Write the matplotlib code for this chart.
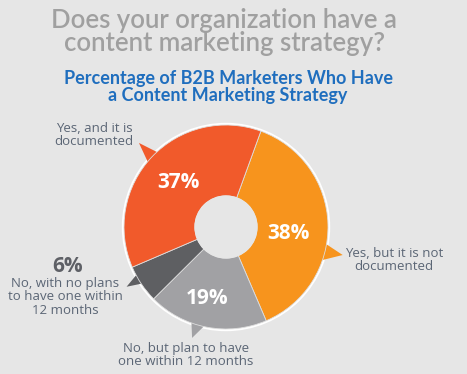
import numpy as np
import matplotlib.pyplot as plt
from matplotlib.patches import Polygon, Circle

# data
labels = ["Yes, but it is not\ndocumented",
          "No, but plan to have\none within 12 months",
          "No, with no plans\nto have one within\n12 months",
          "Yes, and it is\ndocumented"]
values = [38, 19, 6, 37]
pct_text = ["38%", "19%", "6%", "37%"]
colors = ["#F7941D", "#A1A1A4", "#5E5F62", "#F15A2B"]

bg = "#E6E6E6"
W, H = 467, 374
cx, cy, R = 226, H - 227, 102


def tab(angle, half, tip_ang, tip_r):
    # little speech-bubble pointer sticking out of the ring
    a1, a2 = np.radians(angle - half), np.radians(angle + half)
    t = np.radians(tip_ang)
    pts = [(cx + (R - 3) * np.cos(a1), cy + (R - 3) * np.sin(a1)),
           (cx + tip_r * np.cos(t), cy + tip_r * np.sin(t)),
           (cx + (R - 3) * np.cos(a2), cy + (R - 3) * np.sin(a2))]
    return pts


fig = plt.figure(figsize=(W / 100, H / 100), dpi=100, facecolor=bg)
ax = fig.add_axes([0, 0, 1, 1])
ax.set_xlim(0, W)
ax.set_ylim(0, H)
ax.set_aspect("equal")
ax.axis("off")
ax.set_facecolor(bg)

# white rim behind the ring
ax.add_patch(Circle((cx, cy), R + 1.5, color="white", zorder=1))

wedges, _ = ax.pie(values, colors=colors, startangle=70, counterclock=False,
                   center=(cx, cy), radius=R, frame=True,
                   wedgeprops=dict(width=R - 31, linewidth=0.6, edgecolor="#DDDDDD"))
for w in wedges:
    w.set_zorder(3)
ax.set_xlim(0, W)
ax.set_ylim(0, H)
ax.axis("off")

# pointers: (centre angle, half width, tip angle, tip radius)
tabs = [(-14.5, 5.5, -13.5, 120), (-106, 4.5, -107, 116),
        (-149, 3.5, -149, 116), (136.5, 4.5, 136, 121)]
for (a, h, ta, tr), c in zip(tabs, colors):
    ax.add_patch(Polygon(tab(a, h, ta, tr), closed=True, color=c, lw=0, zorder=2))

ax.add_patch(Circle((cx, cy), 31, color=bg, zorder=4))

pct_pos = [(288, 233), (207, 298), (68, 267), (178, 182)]
for (x, y), t, k in zip(pct_pos, pct_text, range(4)):
    col = "#5E6066" if k == 2 else "white"
    ax.text(x, H - y, t, color=col, fontsize=15, fontweight="bold",
            family="Open Sans", ha="center", va="center", zorder=5)

lab_pos = [(394, 260), (186, 355), (65, 297), (94, 135)]
for (x, y), t in zip(lab_pos, labels):
    ax.text(x, H - y, t, color="#5B6675", fontsize=9.5, family="Open Sans",
            ha="center", va="center", linespacing=1.0, zorder=5)

fig.text(224 / W, 1 - 32 / H, "Does your organization have a\ncontent marketing strategy?",
         color="#A0A0A0", fontsize=18.5, fontweight="semibold", family="Lato",
         ha="center", va="center", linespacing=0.92)
fig.text(228 / W, 1 - 87 / H, "Percentage of B2B Marketers Who Have\na Content Marketing Strategy",
         color="#1F6EBE", fontsize=13, fontweight="bold", family="Lato",
         ha="center", va="center", linespacing=1.0)

fig.savefig("out.png", dpi=100, facecolor=bg)
